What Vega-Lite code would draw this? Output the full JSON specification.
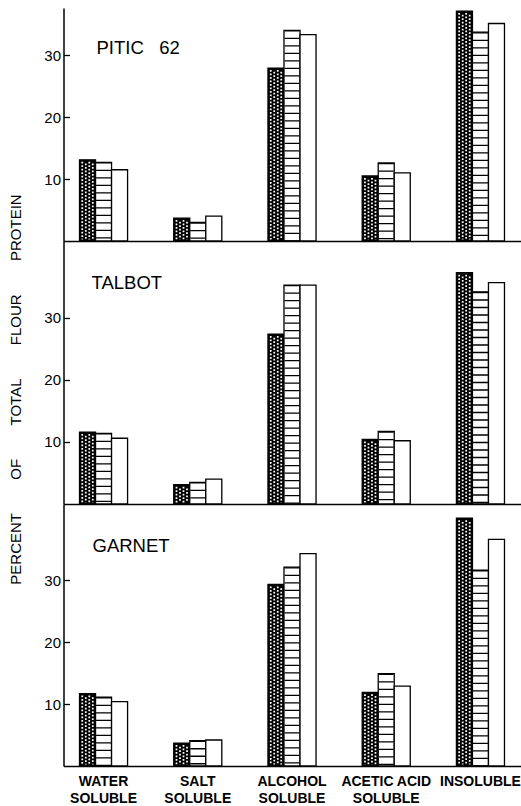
{
  "$schema": "https://vega.github.io/schema/vega-lite/v6.json",
  "padding": {"left": 8.5, "top": 8, "right": 0, "bottom": 0},
  "background": "white",
  "spacing": 0,
  "bounds": "flush",
  "config": {
    "view": {"stroke": null},
    "font": "Liberation Sans",
    "concat": {"spacing": 0},
    "axis": {"grid": false, "domainColor": "black", "domainWidth": 1.5, "tickColor": "black", "labelColor": "black", "titleColor": "black"},
    "text": {"font": "Liberation Sans", "fontSize": 18.5, "color": "black", "align": "left", "baseline": "alphabetic"}
  },
  "datasets": {
    "protein": [
      {"variety": "PITIC 62", "fraction": "WATER SOLUBLE", "series": "A", "value": 13.1},
      {"variety": "PITIC 62", "fraction": "WATER SOLUBLE", "series": "B", "value": 12.7},
      {"variety": "PITIC 62", "fraction": "WATER SOLUBLE", "series": "C", "value": 11.5},
      {"variety": "PITIC 62", "fraction": "SALT SOLUBLE", "series": "A", "value": 3.7},
      {"variety": "PITIC 62", "fraction": "SALT SOLUBLE", "series": "B", "value": 3.0},
      {"variety": "PITIC 62", "fraction": "SALT SOLUBLE", "series": "C", "value": 4.0},
      {"variety": "PITIC 62", "fraction": "ALCOHOL SOLUBLE", "series": "A", "value": 27.9},
      {"variety": "PITIC 62", "fraction": "ALCOHOL SOLUBLE", "series": "B", "value": 34.0},
      {"variety": "PITIC 62", "fraction": "ALCOHOL SOLUBLE", "series": "C", "value": 33.3},
      {"variety": "PITIC 62", "fraction": "ACETIC ACID SOLUBLE", "series": "A", "value": 10.5},
      {"variety": "PITIC 62", "fraction": "ACETIC ACID SOLUBLE", "series": "B", "value": 12.6},
      {"variety": "PITIC 62", "fraction": "ACETIC ACID SOLUBLE", "series": "C", "value": 11.0},
      {"variety": "PITIC 62", "fraction": "INSOLUBLE", "series": "A", "value": 37.1},
      {"variety": "PITIC 62", "fraction": "INSOLUBLE", "series": "B", "value": 33.7},
      {"variety": "PITIC 62", "fraction": "INSOLUBLE", "series": "C", "value": 35.1},
      {"variety": "TALBOT", "fraction": "WATER SOLUBLE", "series": "A", "value": 11.6},
      {"variety": "TALBOT", "fraction": "WATER SOLUBLE", "series": "B", "value": 11.4},
      {"variety": "TALBOT", "fraction": "WATER SOLUBLE", "series": "C", "value": 10.6},
      {"variety": "TALBOT", "fraction": "SALT SOLUBLE", "series": "A", "value": 3.1},
      {"variety": "TALBOT", "fraction": "SALT SOLUBLE", "series": "B", "value": 3.5},
      {"variety": "TALBOT", "fraction": "SALT SOLUBLE", "series": "C", "value": 4.0},
      {"variety": "TALBOT", "fraction": "ALCOHOL SOLUBLE", "series": "A", "value": 27.4},
      {"variety": "TALBOT", "fraction": "ALCOHOL SOLUBLE", "series": "B", "value": 35.3},
      {"variety": "TALBOT", "fraction": "ALCOHOL SOLUBLE", "series": "C", "value": 35.3},
      {"variety": "TALBOT", "fraction": "ACETIC ACID SOLUBLE", "series": "A", "value": 10.4},
      {"variety": "TALBOT", "fraction": "ACETIC ACID SOLUBLE", "series": "B", "value": 11.7},
      {"variety": "TALBOT", "fraction": "ACETIC ACID SOLUBLE", "series": "C", "value": 10.2},
      {"variety": "TALBOT", "fraction": "INSOLUBLE", "series": "A", "value": 37.3},
      {"variety": "TALBOT", "fraction": "INSOLUBLE", "series": "B", "value": 34.2},
      {"variety": "TALBOT", "fraction": "INSOLUBLE", "series": "C", "value": 35.7},
      {"variety": "GARNET", "fraction": "WATER SOLUBLE", "series": "A", "value": 11.7},
      {"variety": "GARNET", "fraction": "WATER SOLUBLE", "series": "B", "value": 11.1},
      {"variety": "GARNET", "fraction": "WATER SOLUBLE", "series": "C", "value": 10.4},
      {"variety": "GARNET", "fraction": "SALT SOLUBLE", "series": "A", "value": 3.7},
      {"variety": "GARNET", "fraction": "SALT SOLUBLE", "series": "B", "value": 4.1},
      {"variety": "GARNET", "fraction": "SALT SOLUBLE", "series": "C", "value": 4.2},
      {"variety": "GARNET", "fraction": "ALCOHOL SOLUBLE", "series": "A", "value": 29.3},
      {"variety": "GARNET", "fraction": "ALCOHOL SOLUBLE", "series": "B", "value": 32.1},
      {"variety": "GARNET", "fraction": "ALCOHOL SOLUBLE", "series": "C", "value": 34.3},
      {"variety": "GARNET", "fraction": "ACETIC ACID SOLUBLE", "series": "A", "value": 11.9},
      {"variety": "GARNET", "fraction": "ACETIC ACID SOLUBLE", "series": "B", "value": 14.9},
      {"variety": "GARNET", "fraction": "ACETIC ACID SOLUBLE", "series": "C", "value": 12.9},
      {"variety": "GARNET", "fraction": "INSOLUBLE", "series": "A", "value": 40.0},
      {"variety": "GARNET", "fraction": "INSOLUBLE", "series": "B", "value": 31.6},
      {"variety": "GARNET", "fraction": "INSOLUBLE", "series": "C", "value": 36.6}
    ]
  },
  "data": {"name": "protein"},
  "vconcat": [
    {
      "width": 457, "height": 233,
      "transform": [{"filter": "datum.variety === 'PITIC 62'"}],
      "encoding": {
        "x": {"field": "fraction", "type": "nominal", "sort": ["WATER SOLUBLE", "SALT SOLUBLE", "ALCOHOL SOLUBLE", "ACETIC ACID SOLUBLE", "INSOLUBLE"], "scale": {"paddingInner": 0.49, "paddingOuter": 0.17}, "axis": {"labels": false, "ticks": false, "title": null}},
        "y": {"field": "value", "type": "quantitative", "scale": {"domain": [0, 37.6], "nice": false}, "axis": {"values": [10, 20, 30], "title": null, "tickSize": -6, "tickWidth": 1.3, "labelPadding": 9, "labelFontSize": 15, "labelFont": "Liberation Sans"}}
      },
      "layer": [
        {"mark": {"type": "bar", "stroke": "black", "strokeWidth": 1.3}, "encoding": {"xOffset": {"field": "series", "scale": {"paddingInner": 0, "paddingOuter": 0}}, "fill": {"field": "series", "scale": {"domain": ["A", "B", "C"], "range": ["black", "white", "white"]}, "legend": null}}},
        {"transform": [{"filter": "datum.series === 'B'"}], "mark": {"type": "rule", "stroke": "black", "strokeWidth": 15, "strokeDash": [1.3, 6.2], "strokeCap": "butt"}, "encoding": {"y2": {"datum": 0}}},
        {"transform": [{"filter": "datum.series === 'A'"}], "mark": {"type": "rule", "stroke": "white", "strokeWidth": 1.75, "strokeDash": [1.75, 1.75], "strokeDashOffset": 0, "strokeCap": "butt", "xOffset": -5.25, "yOffset": 2, "y2Offset": -1.5}, "encoding": {"x": {"field": "fraction", "type": "nominal", "bandPosition": 0.16667, "sort": ["WATER SOLUBLE", "SALT SOLUBLE", "ALCOHOL SOLUBLE", "ACETIC ACID SOLUBLE", "INSOLUBLE"]}, "y2": {"datum": 0}}},
        {"transform": [{"filter": "datum.series === 'A'"}], "mark": {"type": "rule", "stroke": "white", "strokeWidth": 1.75, "strokeDash": [1.75, 1.75], "strokeDashOffset": 1.75, "strokeCap": "butt", "xOffset": -1.75, "yOffset": 2, "y2Offset": -1.5}, "encoding": {"x": {"field": "fraction", "type": "nominal", "bandPosition": 0.16667, "sort": ["WATER SOLUBLE", "SALT SOLUBLE", "ALCOHOL SOLUBLE", "ACETIC ACID SOLUBLE", "INSOLUBLE"]}, "y2": {"datum": 0}}},
        {"transform": [{"filter": "datum.series === 'A'"}], "mark": {"type": "rule", "stroke": "white", "strokeWidth": 1.75, "strokeDash": [1.75, 1.75], "strokeDashOffset": 0, "strokeCap": "butt", "xOffset": 1.75, "yOffset": 2, "y2Offset": -1.5}, "encoding": {"x": {"field": "fraction", "type": "nominal", "bandPosition": 0.16667, "sort": ["WATER SOLUBLE", "SALT SOLUBLE", "ALCOHOL SOLUBLE", "ACETIC ACID SOLUBLE", "INSOLUBLE"]}, "y2": {"datum": 0}}},
        {"transform": [{"filter": "datum.series === 'A'"}], "mark": {"type": "rule", "stroke": "white", "strokeWidth": 1.75, "strokeDash": [1.75, 1.75], "strokeDashOffset": 1.75, "strokeCap": "butt", "xOffset": 5.25, "yOffset": 2, "y2Offset": -1.5}, "encoding": {"x": {"field": "fraction", "type": "nominal", "bandPosition": 0.16667, "sort": ["WATER SOLUBLE", "SALT SOLUBLE", "ALCOHOL SOLUBLE", "ACETIC ACID SOLUBLE", "INSOLUBLE"]}, "y2": {"datum": 0}}},
        {"transform": [{"filter": "datum.series === 'A' && datum.fraction === 'WATER SOLUBLE'"}], "mark": {"type": "text", "dx": 17}, "encoding": {"x": {"datum": "WATER SOLUBLE", "bandPosition": 0}, "y": {"datum": 30.2}, "text": {"value": "PITIC\u00a0\u00a0\u00a062"}}}
      ]
    },
    {
      "width": 457, "height": 263,
      "transform": [{"filter": "datum.variety === 'TALBOT'"}],
      "encoding": {
        "x": {"field": "fraction", "type": "nominal", "sort": ["WATER SOLUBLE", "SALT SOLUBLE", "ALCOHOL SOLUBLE", "ACETIC ACID SOLUBLE", "INSOLUBLE"], "scale": {"paddingInner": 0.49, "paddingOuter": 0.17}, "axis": {"labels": false, "ticks": false, "title": null}},
        "y": {"field": "value", "type": "quantitative", "scale": {"domain": [0, 42.4], "nice": false}, "axis": {"values": [10, 20, 30], "title": "PERCENT\u00a0\u00a0\u00a0\u00a0\u00a0\u00a0\u00a0\u00a0OF\u00a0\u00a0\u00a0\u00a0\u00a0\u00a0\u00a0\u00a0TOTAL\u00a0\u00a0\u00a0\u00a0\u00a0\u00a0\u00a0\u00a0FLOUR\u00a0\u00a0\u00a0\u00a0\u00a0\u00a0\u00a0\u00a0PROTEIN", "titleFontSize": 15, "titleFontWeight": "normal", "titleFont": "Liberation Sans", "titlePadding": 20, "titleY": 148, "tickSize": -6, "tickWidth": 1.3, "labelPadding": 9, "labelFontSize": 15, "labelFont": "Liberation Sans"}}
      },
      "layer": [
        {"mark": {"type": "bar", "stroke": "black", "strokeWidth": 1.3}, "encoding": {"xOffset": {"field": "series", "scale": {"paddingInner": 0, "paddingOuter": 0}}, "fill": {"field": "series", "scale": {"domain": ["A", "B", "C"], "range": ["black", "white", "white"]}, "legend": null}}},
        {"transform": [{"filter": "datum.series === 'B'"}], "mark": {"type": "rule", "stroke": "black", "strokeWidth": 15, "strokeDash": [1.3, 6.2], "strokeCap": "butt"}, "encoding": {"y2": {"datum": 0}}},
        {"transform": [{"filter": "datum.series === 'A'"}], "mark": {"type": "rule", "stroke": "white", "strokeWidth": 1.75, "strokeDash": [1.75, 1.75], "strokeDashOffset": 0, "strokeCap": "butt", "xOffset": -5.25, "yOffset": 2, "y2Offset": -1.5}, "encoding": {"x": {"field": "fraction", "type": "nominal", "bandPosition": 0.16667, "sort": ["WATER SOLUBLE", "SALT SOLUBLE", "ALCOHOL SOLUBLE", "ACETIC ACID SOLUBLE", "INSOLUBLE"]}, "y2": {"datum": 0}}},
        {"transform": [{"filter": "datum.series === 'A'"}], "mark": {"type": "rule", "stroke": "white", "strokeWidth": 1.75, "strokeDash": [1.75, 1.75], "strokeDashOffset": 1.75, "strokeCap": "butt", "xOffset": -1.75, "yOffset": 2, "y2Offset": -1.5}, "encoding": {"x": {"field": "fraction", "type": "nominal", "bandPosition": 0.16667, "sort": ["WATER SOLUBLE", "SALT SOLUBLE", "ALCOHOL SOLUBLE", "ACETIC ACID SOLUBLE", "INSOLUBLE"]}, "y2": {"datum": 0}}},
        {"transform": [{"filter": "datum.series === 'A'"}], "mark": {"type": "rule", "stroke": "white", "strokeWidth": 1.75, "strokeDash": [1.75, 1.75], "strokeDashOffset": 0, "strokeCap": "butt", "xOffset": 1.75, "yOffset": 2, "y2Offset": -1.5}, "encoding": {"x": {"field": "fraction", "type": "nominal", "bandPosition": 0.16667, "sort": ["WATER SOLUBLE", "SALT SOLUBLE", "ALCOHOL SOLUBLE", "ACETIC ACID SOLUBLE", "INSOLUBLE"]}, "y2": {"datum": 0}}},
        {"transform": [{"filter": "datum.series === 'A'"}], "mark": {"type": "rule", "stroke": "white", "strokeWidth": 1.75, "strokeDash": [1.75, 1.75], "strokeDashOffset": 1.75, "strokeCap": "butt", "xOffset": 5.25, "yOffset": 2, "y2Offset": -1.5}, "encoding": {"x": {"field": "fraction", "type": "nominal", "bandPosition": 0.16667, "sort": ["WATER SOLUBLE", "SALT SOLUBLE", "ALCOHOL SOLUBLE", "ACETIC ACID SOLUBLE", "INSOLUBLE"]}, "y2": {"datum": 0}}},
        {"transform": [{"filter": "datum.series === 'A' && datum.fraction === 'WATER SOLUBLE'"}], "mark": {"type": "text", "dx": 12}, "encoding": {"x": {"datum": "WATER SOLUBLE", "bandPosition": 0}, "y": {"datum": 34.7}, "text": {"value": "TALBOT"}}}
      ]
    },
    {
      "width": 457, "height": 262,
      "transform": [{"filter": "datum.variety === 'GARNET'"}],
      "encoding": {
        "x": {"field": "fraction", "type": "nominal", "sort": ["WATER SOLUBLE", "SALT SOLUBLE", "ALCOHOL SOLUBLE", "ACETIC ACID SOLUBLE", "INSOLUBLE"], "scale": {"paddingInner": 0.49, "paddingOuter": 0.17}, "axis": {"title": null, "ticks": false, "labelAngle": 0, "labelFontSize": 14, "labelFont": "Liberation Sans Narrow, Liberation Sans", "labelFontWeight": "bold", "labelLineHeight": 17, "labelPadding": 8, "labelExpr": "[replace(datum.label, ' SOLUBLE', ''), indexof(datum.label, ' SOLUBLE') >= 0 ? 'SOLUBLE' : '']"}},
        "y": {"field": "value", "type": "quantitative", "scale": {"domain": [0, 42.3], "nice": false}, "axis": {"values": [10, 20, 30], "title": null, "tickSize": -6, "tickWidth": 1.3, "labelPadding": 9, "labelFontSize": 15, "labelFont": "Liberation Sans"}}
      },
      "layer": [
        {"mark": {"type": "bar", "stroke": "black", "strokeWidth": 1.3}, "encoding": {"xOffset": {"field": "series", "scale": {"paddingInner": 0, "paddingOuter": 0}}, "fill": {"field": "series", "scale": {"domain": ["A", "B", "C"], "range": ["black", "white", "white"]}, "legend": null}}},
        {"transform": [{"filter": "datum.series === 'B'"}], "mark": {"type": "rule", "stroke": "black", "strokeWidth": 15, "strokeDash": [1.3, 6.2], "strokeCap": "butt"}, "encoding": {"y2": {"datum": 0}}},
        {"transform": [{"filter": "datum.series === 'A'"}], "mark": {"type": "rule", "stroke": "white", "strokeWidth": 1.75, "strokeDash": [1.75, 1.75], "strokeDashOffset": 0, "strokeCap": "butt", "xOffset": -5.25, "yOffset": 2, "y2Offset": -1.5}, "encoding": {"x": {"field": "fraction", "type": "nominal", "bandPosition": 0.16667, "sort": ["WATER SOLUBLE", "SALT SOLUBLE", "ALCOHOL SOLUBLE", "ACETIC ACID SOLUBLE", "INSOLUBLE"]}, "y2": {"datum": 0}}},
        {"transform": [{"filter": "datum.series === 'A'"}], "mark": {"type": "rule", "stroke": "white", "strokeWidth": 1.75, "strokeDash": [1.75, 1.75], "strokeDashOffset": 1.75, "strokeCap": "butt", "xOffset": -1.75, "yOffset": 2, "y2Offset": -1.5}, "encoding": {"x": {"field": "fraction", "type": "nominal", "bandPosition": 0.16667, "sort": ["WATER SOLUBLE", "SALT SOLUBLE", "ALCOHOL SOLUBLE", "ACETIC ACID SOLUBLE", "INSOLUBLE"]}, "y2": {"datum": 0}}},
        {"transform": [{"filter": "datum.series === 'A'"}], "mark": {"type": "rule", "stroke": "white", "strokeWidth": 1.75, "strokeDash": [1.75, 1.75], "strokeDashOffset": 0, "strokeCap": "butt", "xOffset": 1.75, "yOffset": 2, "y2Offset": -1.5}, "encoding": {"x": {"field": "fraction", "type": "nominal", "bandPosition": 0.16667, "sort": ["WATER SOLUBLE", "SALT SOLUBLE", "ALCOHOL SOLUBLE", "ACETIC ACID SOLUBLE", "INSOLUBLE"]}, "y2": {"datum": 0}}},
        {"transform": [{"filter": "datum.series === 'A'"}], "mark": {"type": "rule", "stroke": "white", "strokeWidth": 1.75, "strokeDash": [1.75, 1.75], "strokeDashOffset": 1.75, "strokeCap": "butt", "xOffset": 5.25, "yOffset": 2, "y2Offset": -1.5}, "encoding": {"x": {"field": "fraction", "type": "nominal", "bandPosition": 0.16667, "sort": ["WATER SOLUBLE", "SALT SOLUBLE", "ALCOHOL SOLUBLE", "ACETIC ACID SOLUBLE", "INSOLUBLE"]}, "y2": {"datum": 0}}},
        {"transform": [{"filter": "datum.series === 'A' && datum.fraction === 'WATER SOLUBLE'"}], "mark": {"type": "text", "dx": 13}, "encoding": {"x": {"datum": "WATER SOLUBLE", "bandPosition": 0}, "y": {"datum": 34.5}, "text": {"value": "GARNET"}}}
      ]
    }
  ]
}
